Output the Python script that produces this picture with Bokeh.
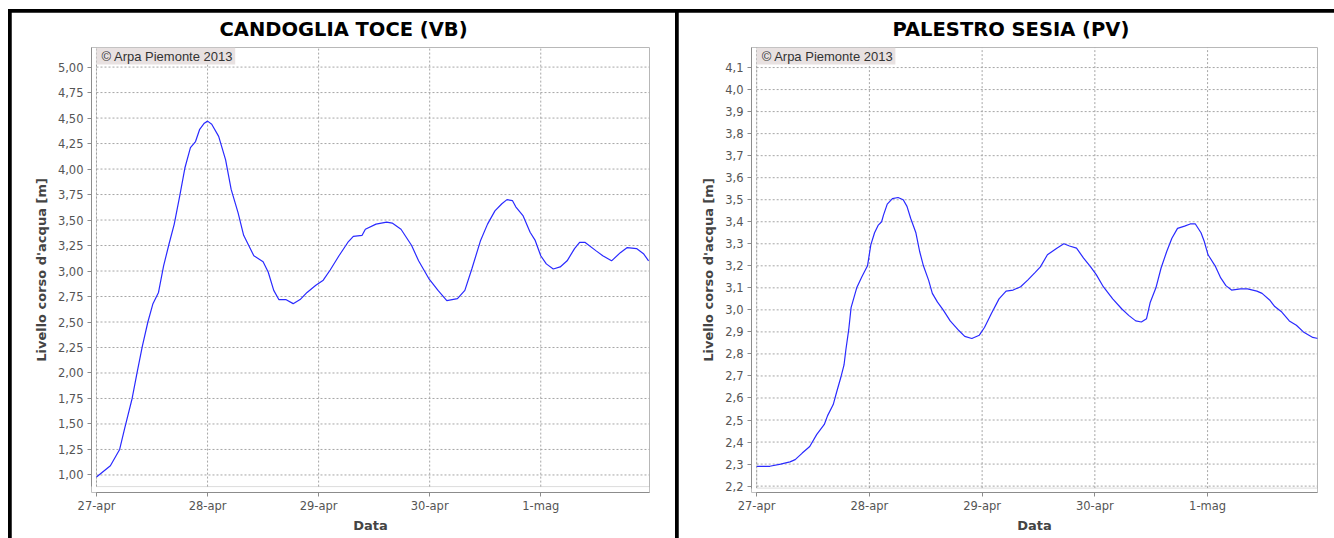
from bokeh.plotting import figure
from bokeh.layouts import row
from bokeh.models import Range1d, FixedTicker, Label, BoxAnnotation, CustomJSTickFormatter
from bokeh.embed import file_html
from bokeh.resources import INLINE

# ---------------- data ----------------
day_ticks = [0, 24, 48, 72, 96]          # hours from 27-apr 00:00
day_labels = ["27-apr", "28-apr", "29-apr", "30-apr", "1-mag"]

toce_title = "CANDOGLIA TOCE (VB)"
toce_hours = [0.0, 3.0, 5.0, 6.1, 7.7, 8.8, 9.9, 11.1, 12.2, 13.4,
              14.5, 15.7, 16.8, 18.0, 19.1, 20.3, 21.4, 22.3, 23.3, 24.0,
              24.9, 26.4, 27.9, 29.1, 30.6, 31.8, 32.9, 34.0, 36.0, 37.1,
              38.3, 39.4, 40.9, 42.5, 44.0, 45.5, 47.4, 49.0, 50.5, 52.4,
              54.3, 55.5, 57.4, 58.1, 60.4, 62.7, 63.9, 65.8, 68.1, 69.6,
              71.9, 73.8, 75.7, 78.0, 79.6, 81.1, 83.0, 84.5, 86.1, 87.6,
              88.7, 89.9, 90.6, 92.2, 93.7, 94.8, 96.0, 97.2, 98.7, 100.2,
              101.7, 103.3, 104.4, 105.6, 107.9, 109.4, 111.3, 113.2, 114.7, 116.7,
              118.2, 119.3]
toce_level = [0.98, 1.09, 1.25, 1.46, 1.75, 2.01, 2.26, 2.50, 2.68, 2.79,
              3.05, 3.27, 3.46, 3.74, 4.01, 4.21, 4.27, 4.39, 4.45, 4.47,
              4.44, 4.32, 4.09, 3.80, 3.57, 3.35, 3.25, 3.15, 3.09, 2.99,
              2.81, 2.72, 2.72, 2.68, 2.72, 2.79, 2.86, 2.91, 3.01, 3.15,
              3.28, 3.34, 3.35, 3.41, 3.46, 3.48, 3.47, 3.41, 3.25, 3.10,
              2.92, 2.81, 2.71, 2.73, 2.81, 3.02, 3.30, 3.46, 3.59, 3.66,
              3.70, 3.69, 3.63, 3.54, 3.38, 3.30, 3.15, 3.07, 3.02, 3.04,
              3.10, 3.22, 3.28, 3.28, 3.20, 3.15, 3.10, 3.18, 3.23, 3.22,
              3.17, 3.10]
toce_yticks = [1.00, 1.25, 1.50, 1.75, 2.00, 2.25, 2.50, 2.75, 3.00, 3.25,
               3.50, 3.75, 4.00, 4.25, 4.50, 4.75, 5.00]

sesia_title = "PALESTRO SESIA (PV)"
sesia_hours = [0.0, 2.8, 5.1, 7.1, 8.2, 9.7, 11.3, 12.8, 14.4, 15.1,
               16.3, 17.0, 18.0, 18.6, 19.0, 19.6, 20.1, 21.3, 22.4, 23.6,
               24.3, 25.1, 25.9, 26.6, 27.0, 27.8, 28.9, 30.1, 31.2, 32.0,
               32.8, 33.9, 34.7, 35.5, 36.6, 37.4, 38.5, 39.7, 41.2, 43.1,
               44.3, 45.8, 47.4, 48.5, 50.0, 51.6, 53.1, 54.6, 56.2, 57.7,
               59.3, 60.4, 61.9, 63.9, 65.4, 66.6, 68.1, 69.6, 71.1, 72.3,
               73.8, 75.8, 77.7, 79.2, 80.7, 81.9, 83.0, 83.8, 85.0, 86.1,
               87.3, 88.4, 89.6, 91.1, 92.3, 93.4, 94.6, 95.3, 96.1, 97.6,
               98.8, 99.9, 101.1, 103.0, 104.5, 106.5, 107.6, 109.2, 110.3, 111.8,
               113.4, 114.9, 116.4, 118.4, 119.5]
sesia_level = [2.29, 2.29, 2.30, 2.31, 2.32, 2.35, 2.38, 2.435, 2.48, 2.52,
               2.57, 2.625, 2.70, 2.75, 2.82, 2.91, 3.01, 3.10, 3.15, 3.20,
               3.295, 3.35, 3.385, 3.40, 3.43, 3.48, 3.505, 3.51, 3.50, 3.47,
               3.415, 3.35, 3.265, 3.20, 3.135, 3.075, 3.035, 3.00, 2.95, 2.905,
               2.88, 2.87, 2.885, 2.92, 2.985, 3.05, 3.085, 3.09, 3.105, 3.135,
               3.17, 3.195, 3.25, 3.28, 3.30, 3.29, 3.28, 3.235, 3.195, 3.16,
               3.105, 3.05, 3.005, 2.975, 2.95, 2.945, 2.96, 3.035, 3.10, 3.19,
               3.265, 3.325, 3.37, 3.38, 3.39, 3.39, 3.35, 3.31, 3.25, 3.20,
               3.145, 3.11, 3.09, 3.095, 3.095, 3.085, 3.075, 3.045, 3.015, 2.99,
               2.95, 2.93, 2.90, 2.875, 2.87]
sesia_yticks = [2.2, 2.3, 2.4, 2.5, 2.6, 2.7, 2.8, 2.9, 3.0, 3.1, 3.2,
                3.3, 3.4, 3.5, 3.6, 3.7, 3.8, 3.9, 4.0, 4.1]

x_label = "Data"
y_label = "Livello corso d'acqua [m]"
watermark = "\u00a9 Arpa Piemonte 2013"


def make_panel(title, hours, level, yticks, decimals, x_end, x_pad, y_bot, y_top, y_pad,
               width, height, borders, title_offset, styles):
    p = figure(width=width, height=height, output_backend="svg", toolbar_location=None,
               x_range=Range1d(-x_pad, x_end), y_range=Range1d(y_bot - y_pad, y_top),
               min_border_left=borders[0], min_border_right=borders[1],
               min_border_top=borders[2], min_border_bottom=borders[3],
               title=title)
    p.styles = styles
    p.outline_line_color = None
    p.background_fill_color = "white"
    p.border_fill_color = "white"
    p.grid.visible = False

    p.title.align = "left"
    p.title.offset = title_offset
    p.title.vertical_align = "top"
    p.title.text_font = "DejaVu Sans"
    p.title.text_font_style = "bold"
    p.title.text_font_size = "19.5px"
    p.title.text_color = "#000000"
    p.title.standoff = 10

    # grid lines, limited to the data area
    p.segment(x0=day_ticks, x1=day_ticks, y0=[y_bot] * len(day_ticks), y1=[y_top] * len(day_ticks),
              line_color="#a6a6a6", line_dash="2 2", line_width=1)
    p.segment(x0=[0] * len(yticks), x1=[x_end] * len(yticks), y0=yticks, y1=yticks,
              line_color="#a6a6a6", line_dash="2 2", line_width=1)

    p.add_layout(BoxAnnotation(left=0, right=x_end, bottom=y_bot, top=y_top,
                               fill_alpha=0, line_color="#8c8c8c", line_width=1))

    p.line(hours, level, line_color="#2a2aff", line_width=1.2)

    p.add_layout(Label(x=0, y=y_top, text=watermark, text_align="left", text_baseline="top",
                       text_font="Liberation Sans", text_font_size="13px", text_color="#333333",
                       background_fill_color="#e8e1e1",
                       padding=dict(left=5, right=2, top=1, bottom=1)))

    xa = p.xaxis[0]
    xa.ticker = FixedTicker(ticks=day_ticks)
    xa.major_label_overrides = {t: lab for t, lab in zip(day_ticks, day_labels)}
    xa.bounds = (0, x_end)
    xa.axis_label = x_label
    ya = p.yaxis[0]
    ya.ticker = FixedTicker(ticks=yticks)
    ya.formatter = CustomJSTickFormatter(code="return tick.toFixed(%d).replace('.', ',')" % decimals)
    ya.bounds = (y_bot, y_top)
    ya.axis_label = y_label
    for ax in (xa, ya):
        ax.axis_line_color = "#8c8c8c"
        ax.major_tick_line_color = "#8c8c8c"
        ax.minor_tick_line_color = None
        ax.major_tick_out = 4
        ax.major_tick_in = 0
        ax.major_label_text_font = "DejaVu Sans"
        ax.major_label_text_font_size = "11.5px"
        ax.major_label_text_color = "#555555"
        ax.axis_label_text_font = "DejaVu Sans"
        ax.axis_label_text_font_style = "bold"
        ax.axis_label_text_font_size = "13px"
        ax.axis_label_text_color = "#444444"
    xa.major_label_standoff = 2
    xa.axis_label_standoff = 2
    ya.major_label_standoff = 4
    ya.axis_label_standoff = 6
    return p


p1 = make_panel(toce_title, toce_hours, toce_level, toce_yticks, 2,
                x_end=119.5, x_pad=1.08, y_bot=0.886, y_top=5.192, y_pad=0.058,
                width=664, height=526, borders=(80, 26, 35, 43), title_offset=128,
                styles={"margin-left": "3px", "margin-top": "3px", "margin-right": "3px"})
p2 = make_panel(sesia_title, sesia_hours, sesia_level, sesia_yticks, 1,
                x_end=119.4, x_pad=1.1, y_bot=2.191, y_top=4.191, y_pad=0.020,
                width=656, height=526, borders=(73, 17, 35, 46), title_offset=141,
                styles={"margin-top": "3px"})

layout = row(p1, p2, styles={"background-color": "#000000", "margin-left": "8px", "margin-top": "9px"})
open("out.html", "w").write(file_html(layout, INLINE))
